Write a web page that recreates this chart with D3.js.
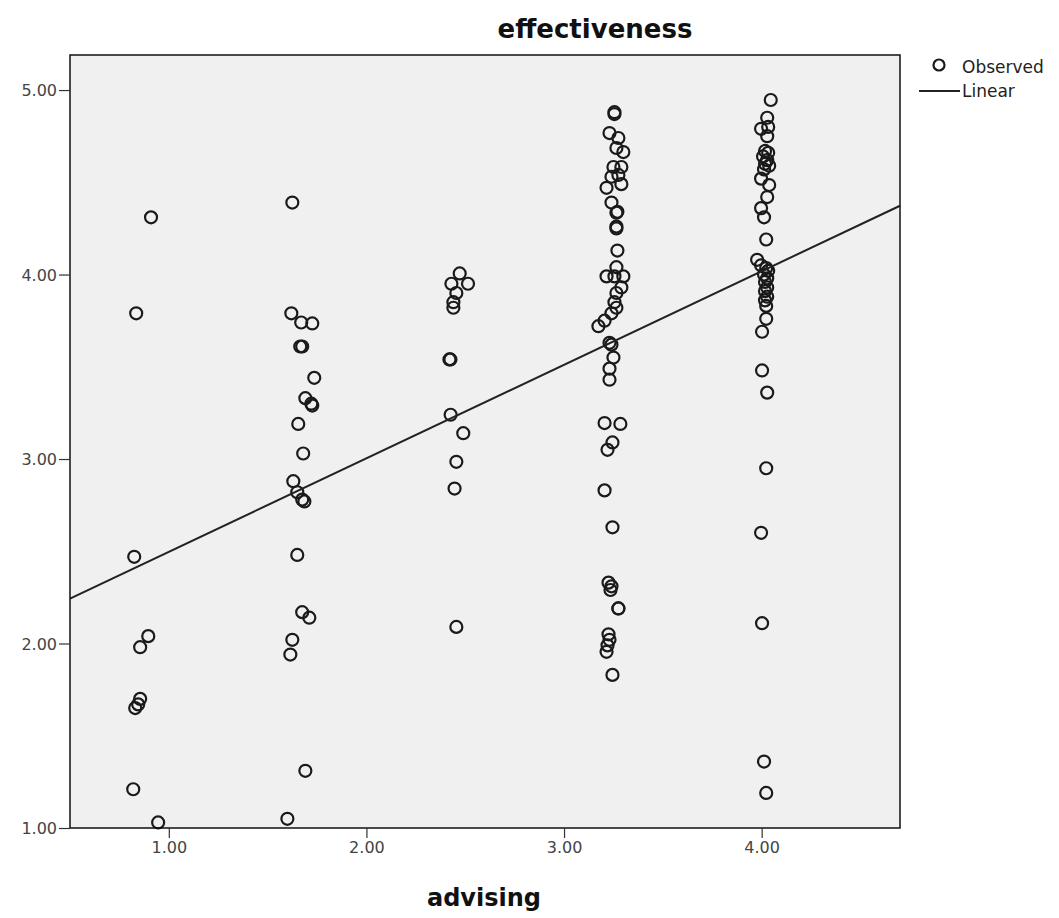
<!DOCTYPE html>
<html>
<head>
<meta charset="utf-8">
<script src="https://cdn.jsdelivr.net/npm/d3@7"></script>
<style>
  html, body { margin: 0; padding: 0; background: #ffffff; }
  svg { display: block; }
</style>
</head>
<body>
<svg id="chart" width="1059" height="918"></svg>
<script>
// ---- Data ----
const chartTitle = "effectiveness";
const xAxisTitle = "advising";
const xTickValues = [1, 2, 3, 4];
const yTickValues = [1, 2, 3, 4, 5];
const legendLabels = ["Observed", "Linear"];

const advising = [
  // group near 1
  0.91, 0.835, 0.825, 0.896, 0.855, 0.855, 0.845, 0.83, 0.82, 0.946,
  // group near 1.67
  1.625, 1.62, 1.67, 1.726, 1.675, 1.665, 1.736, 1.691, 1.721, 1.726, 1.655, 1.68,
  1.63, 1.65, 1.675, 1.686, 1.65, 1.675, 1.711, 1.625, 1.615, 1.691, 1.60,
  // group near 2.45
  2.472, 2.43, 2.514, 2.455, 2.44, 2.44, 2.42, 2.425, 2.426, 2.49, 2.455, 2.446, 2.455,
  // group near 3.25
  3.255, 3.255, 3.23, 3.275, 3.265, 3.30, 3.25, 3.29, 3.275, 3.24, 3.29, 3.215,
  3.24, 3.27, 3.265, 3.265, 3.265, 3.27, 3.265, 3.215, 3.255, 3.30, 3.29, 3.265,
  3.255, 3.265, 3.24, 3.205, 3.174, 3.23, 3.24, 3.25, 3.23, 3.23, 3.205, 3.285,
  3.245, 3.22, 3.205, 3.245, 3.225, 3.24, 3.235, 3.275, 3.275, 3.225, 3.23, 3.22,
  3.215, 3.245,
  // group near 4.02
  4.046, 4.028, 3.997, 4.033, 4.028, 4.017, 4.033, 4.007, 4.028, 4.017, 4.038, 4.012,
  3.997, 4.038, 4.028, 3.997, 4.012, 4.023, 3.977, 3.997, 4.023, 4.033, 4.012, 4.028,
  4.017, 4.028, 4.017, 4.028, 4.017, 4.023, 4.023, 4.002, 4.002, 4.028, 4.023, 3.997,
  4.002, 4.012, 4.023
];

const effectiveness = [
  // group near 1
  4.31, 3.79, 2.47, 2.04, 1.98, 1.70, 1.67, 1.65, 1.21, 1.03,
  // group near 1.67
  4.39, 3.79, 3.74, 3.735, 3.61, 3.61, 3.44, 3.33, 3.30, 3.29, 3.19, 3.03,
  2.88, 2.82, 2.78, 2.77, 2.48, 2.17, 2.14, 2.02, 1.94, 1.31, 1.05,
  // group near 2.45
  4.006, 3.95, 3.95, 3.90, 3.85, 3.82, 3.54, 3.54, 3.24, 3.14, 2.985, 2.84, 2.09,
  // group near 3.25
  4.88, 4.87, 4.767, 4.74, 4.686, 4.664, 4.583, 4.583, 4.54, 4.53, 4.49, 4.47,
  4.39, 4.34, 4.335, 4.26, 4.25, 4.13, 4.04, 3.99, 3.99, 3.99, 3.93, 3.90,
  3.85, 3.82, 3.79, 3.75, 3.72, 3.63, 3.62, 3.55, 3.49, 3.43, 3.195, 3.19,
  3.09, 3.05, 2.83, 2.63, 2.33, 2.31, 2.29, 2.19, 2.19, 2.05, 2.02, 1.99,
  1.955, 1.83,
  // group near 4.02
  4.946, 4.85, 4.79, 4.80, 4.75, 4.67, 4.66, 4.64, 4.62, 4.60, 4.59, 4.57,
  4.52, 4.485, 4.42, 4.36, 4.31, 4.19, 4.08, 4.05, 4.035, 4.02, 4.00, 3.98,
  3.96, 3.93, 3.91, 3.88, 3.86, 3.83, 3.76, 3.69, 3.48, 3.36, 2.95, 2.60,
  2.11, 1.36, 1.19
];

// linear fit
const fitIntercept = 1.99;
const fitSlope = 0.507;

// ---- Layout ----
const svg = d3.select("#chart");
const plot = { left: 70, right: 900, top: 55, bottom: 828 };

const x = d3.scaleLinear().domain([0.5, 4.7]).range([plot.left, plot.right]);
const y = d3.scaleLinear().domain([1, 5.19]).range([plot.bottom, plot.top]);

// plot background
svg.append("rect")
  .attr("x", plot.left).attr("y", plot.top)
  .attr("width", plot.right - plot.left).attr("height", plot.bottom - plot.top)
  .attr("fill", "#f0f0f0");

// points
const pts = advising.map((a, i) => ({ a, e: effectiveness[i] }));
svg.append("g")
  .selectAll("circle")
  .data(pts)
  .join("circle")
  .attr("cx", d => x(d.a))
  .attr("cy", d => y(d.e))
  .attr("r", 6)
  .attr("fill", "none")
  .attr("stroke", "#1a1a1a")
  .attr("stroke-width", 2.2);

// regression line
const xd = x.domain();
svg.append("line")
  .attr("x1", x(xd[0])).attr("y1", y(fitIntercept + fitSlope * xd[0]))
  .attr("x2", x(xd[1])).attr("y2", y(fitIntercept + fitSlope * xd[1]))
  .attr("stroke", "#222")
  .attr("stroke-width", 2);

// frame
svg.append("rect")
  .attr("x", plot.left).attr("y", plot.top)
  .attr("width", plot.right - plot.left).attr("height", plot.bottom - plot.top)
  .attr("fill", "none")
  .attr("stroke", "#111")
  .attr("stroke-width", 1.5);

// axes
const yAxis = d3.axisLeft(y).tickValues(yTickValues).tickFormat(d3.format(".2f")).tickSize(11).tickSizeOuter(0);
const gy = svg.append("g").attr("transform", `translate(${plot.left},0)`).call(yAxis);
gy.select(".domain").remove();
gy.selectAll("line").attr("stroke", "#333").attr("stroke-width", 1.2);
gy.selectAll("text")
  .attr("font-family", "DejaVu Sans, sans-serif")
  .attr("font-size", 16)
  .attr("fill", "#444")
  .attr("x", -13)
  .attr("dy", "0.36em");

const xAxis = d3.axisBottom(x).tickValues(xTickValues).tickFormat(d3.format(".2f")).tickSize(10).tickSizeOuter(0);
const gx = svg.append("g").attr("transform", `translate(0,${plot.bottom})`).call(xAxis);
gx.select(".domain").remove();
gx.selectAll("line").attr("stroke", "#333").attr("stroke-width", 1.2);
gx.selectAll("text")
  .attr("font-family", "DejaVu Sans, sans-serif")
  .attr("font-size", 16)
  .attr("fill", "#444")
  .attr("y", 14);

// titles
svg.append("text")
  .attr("x", 595).attr("y", 38)
  .attr("text-anchor", "middle")
  .attr("font-family", "DejaVu Sans, sans-serif")
  .attr("font-weight", "bold")
  .attr("font-size", 26)
  .attr("fill", "#111")
  .text(chartTitle);

svg.append("text")
  .attr("x", 484).attr("y", 906)
  .attr("text-anchor", "middle")
  .attr("font-family", "DejaVu Sans, sans-serif")
  .attr("font-weight", "bold")
  .attr("font-size", 24)
  .attr("fill", "#111")
  .text(xAxisTitle);

// legend
const lg = svg.append("g");
lg.append("circle").attr("cx", 939).attr("cy", 65).attr("r", 5.5)
  .attr("fill", "none").attr("stroke", "#1a1a1a").attr("stroke-width", 2.2);
lg.append("text").attr("x", 962).attr("y", 73)
  .attr("font-family", "DejaVu Sans, sans-serif").attr("font-size", 17).attr("fill", "#222")
  .text(legendLabels[0]);
lg.append("line").attr("x1", 919).attr("y1", 91).attr("x2", 960).attr("y2", 91)
  .attr("stroke", "#222").attr("stroke-width", 2);
lg.append("text").attr("x", 962).attr("y", 97)
  .attr("font-family", "DejaVu Sans, sans-serif").attr("font-size", 17).attr("fill", "#222")
  .text(legendLabels[1]);
</script>
</body>
</html>
